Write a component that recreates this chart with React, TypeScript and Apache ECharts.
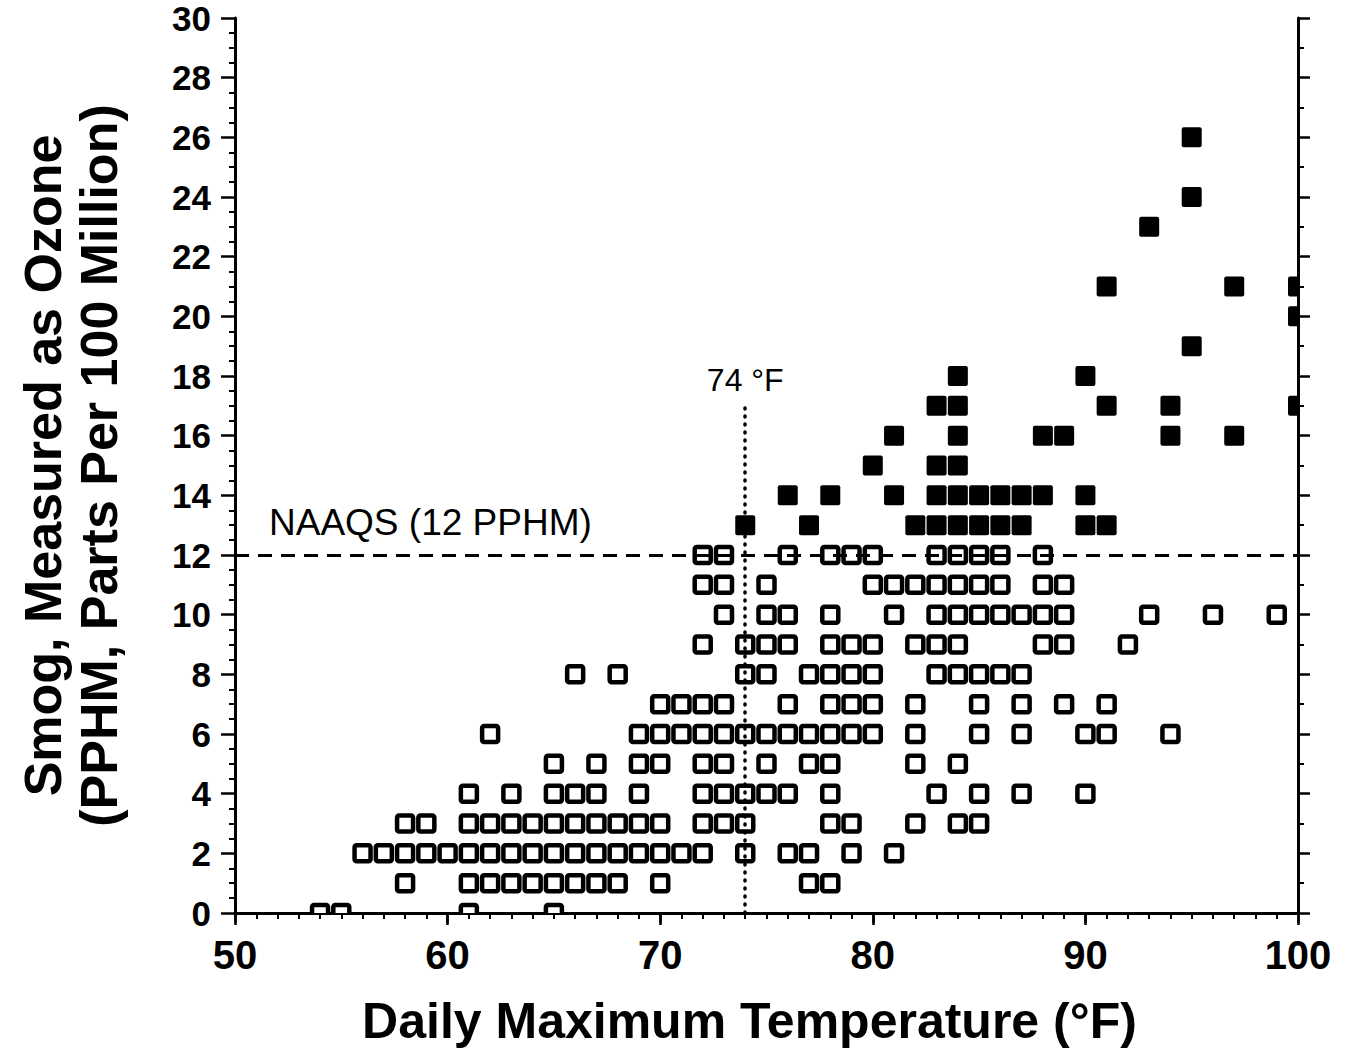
import React, { useEffect, useRef } from "react";
import * as echarts from "echarts";

// ---- axis ticks ----
const xTickLabels = [50, 60, 70, 80, 90, 100];
const yTickLabels = [0, 2, 4, 6, 8, 10, 12, 14, 16, 18, 20, 22, 24, 26, 28, 30];

// ---- open squares: daily max temperature (°F) per ozone level (PPHM) ----
const open0 = [54, 55, 61, 65];
const open1 = [58, 61, 62, 63, 64, 65, 66, 67, 68, 70, 77, 78];
const open2 = [56, 57, 58, 59, 60, 61, 62, 63, 64, 65, 66, 67, 68, 69, 70, 71, 72, 74, 76, 77, 79, 81];
const open3 = [58, 59, 61, 62, 63, 64, 65, 66, 67, 68, 69, 70, 72, 73, 74, 78, 79, 82, 84, 85];
const open4 = [61, 63, 65, 66, 67, 69, 72, 73, 74, 75, 76, 78, 83, 85, 87, 90];
const open5 = [65, 67, 69, 70, 72, 73, 75, 77, 78, 82, 84];
const open6 = [62, 69, 70, 71, 72, 73, 74, 75, 76, 77, 78, 79, 80, 82, 85, 87, 90, 91, 94];
const open7 = [70, 71, 72, 73, 76, 78, 79, 80, 82, 85, 87, 89, 91];
const open8 = [66, 68, 74, 75, 77, 78, 79, 80, 83, 84, 85, 86, 87];
const open9 = [72, 74, 75, 76, 78, 79, 80, 82, 83, 84, 88, 89, 92];
const open10 = [73, 75, 76, 78, 81, 83, 84, 85, 86, 87, 88, 89, 93, 96, 99];
const open11 = [72, 73, 75, 80, 81, 82, 83, 84, 85, 86, 88, 89];
const open12 = [72, 73, 76, 78, 79, 80, 83, 84, 85, 86, 88];
const openLevels = [0, 1, 2, 3, 4, 5, 6, 7, 8, 9, 10, 11, 12];
const openRows = [open0, open1, open2, open3, open4, open5, open6, open7, open8, open9, open10, open11, open12];

// ---- filled squares: days above the standard ----
const filled13 = [74, 77, 82, 83, 84, 85, 86, 87, 90, 91];
const filled14 = [76, 78, 81, 83, 84, 85, 86, 87, 88, 90];
const filled15 = [80, 83, 84];
const filled16 = [81, 84, 88, 89, 94, 97];
const filled17 = [83, 84, 91, 94, 100];
const filled18 = [84, 90];
const filled19 = [95];
const filled20 = [100];
const filled21 = [91, 97, 100];
const filled23 = [93];
const filled24 = [95];
const filled26 = [95];
const filledLevels = [13, 14, 15, 16, 17, 18, 19, 20, 21, 23, 24, 26];
const filledRows = [filled13, filled14, filled15, filled16, filled17, filled18, filled19, filled20, filled21, filled23, filled24, filled26];

// ---- reference lines ----
const naaqsLevel = 12;
const naaqsLabel = "NAAQS (12 PPHM)";
const thresholdTemp = 74;
const thresholdTop = 17;
const thresholdLabel = "74 °F";

function buildPoints(levels: number[], rows: number[][]) {
  const pts: number[][] = [];
  levels.forEach((lv, i) => rows[i].forEach((t) => pts.push([t, lv])));
  return pts;
}

const FONT = "'Liberation Sans', Arial, Helvetica, sans-serif";

export default function App() {
  const ref = useRef<HTMLDivElement>(null);
  useEffect(() => {
    if (!ref.current) return;
    document.body.style.margin = "0";
    const chart = echarts.init(ref.current, undefined, { renderer: "svg" });
    const openPts = buildPoints(openLevels, openRows);
    const filledPts = buildPoints(filledLevels, filledRows);

    const openRender = (params: any, api: any) => {
      const p = api.coord([api.value(0), api.value(1)]);
      return {
        type: "rect",
        shape: { x: p[0] - 8, y: p[1] - 8, width: 16, height: 16, r: 2 },
        style: { fill: "#fff", stroke: "#000", lineWidth: 4.5 },
      };
    };
    const filledRender = (params: any, api: any) => {
      const p = api.coord([api.value(0), api.value(1)]);
      return {
        type: "rect",
        shape: { x: p[0] - 10, y: p[1] - 10, width: 20, height: 20, r: 2 },
        style: { fill: "#000" },
      };
    };

    const axisLine = { show: true, lineStyle: { color: "#000", width: 3 } };

    chart.setOption({
      animation: false,
      backgroundColor: "#fff",
      grid: { left: 235, right: 50, top: 18, bottom: 141, outerBoundsMode: "none", containLabel: false },
      xAxis: [
        {
          type: "value",
          min: xTickLabels[0],
          max: xTickLabels[xTickLabels.length - 1],
          interval: 10,
          position: "bottom",
          axisLine,
          axisTick: { show: true, length: 12, lineStyle: { color: "#000", width: 2.5 } },
          minorTick: { show: true, splitNumber: 10, length: 6, lineStyle: { color: "#000", width: 2 } },
          splitLine: { show: false },
          axisLabel: { fontSize: 40, fontWeight: "bold", color: "#000", fontFamily: FONT, margin: 22 },
          name: "Daily Maximum Temperature (°F)",
          nameLocation: "middle",
          nameGap: 81,
          nameTextStyle: {
            fontSize: 50,
            fontWeight: "bold",
            color: "#000",
            fontFamily: FONT,
            lineHeight: 54,
            padding: [0, 34, 0, 0],
          },
        },
        {
          type: "value",
          min: xTickLabels[0],
          max: xTickLabels[xTickLabels.length - 1],
          interval: 10,
          position: "top",
          axisLine,
          axisTick: { show: true, inside: true, length: 10, lineStyle: { color: "#000", width: 2.5 } },
          minorTick: { show: true, splitNumber: 10, length: 6, lineStyle: { color: "#000", width: 2 } },
          splitLine: { show: false },
          axisLabel: { show: false },
        },
      ],
      yAxis: [
        {
          type: "value",
          min: yTickLabels[0],
          max: yTickLabels[yTickLabels.length - 1],
          interval: 2,
          position: "left",
          axisLine,
          axisTick: { show: true, length: 14, lineStyle: { color: "#000", width: 2.5 } },
          minorTick: { show: true, splitNumber: 4, length: 6, lineStyle: { color: "#000", width: 2 } },
          splitLine: { show: false },
          axisLabel: { fontSize: 35, fontWeight: "bold", color: "#000", fontFamily: FONT, margin: 24, lineHeight: 30 },
          name: "Smog, Measured as Ozone\n(PPHM, Parts Per 100 Million)",
          nameLocation: "middle",
          nameRotate: 90,
          nameGap: 108,
          nameTextStyle: { fontSize: 52, fontWeight: "bold", color: "#000", fontFamily: FONT, lineHeight: 56 },
        },
        {
          type: "value",
          min: yTickLabels[0],
          max: yTickLabels[yTickLabels.length - 1],
          interval: 2,
          position: "right",
          axisLine,
          axisTick: { show: true, length: 12, lineStyle: { color: "#000", width: 2.5 } },
          minorTick: { show: true, splitNumber: 2, length: 6, lineStyle: { color: "#000", width: 2 } },
          splitLine: { show: false },
          axisLabel: { show: false },
        },
      ],
      series: [
        {
          type: "custom",
          name: "open",
          clip: true,
          renderItem: openRender,
          encode: { x: 0, y: 1 },
          data: openPts,
          z: 3,
        },
        {
          type: "custom",
          name: "filled",
          clip: true,
          renderItem: filledRender,
          encode: { x: 0, y: 1 },
          data: filledPts,
          z: 3,
        },
        {
          type: "scatter",
          name: "refs",
          data: [],
          z: 5,
          markLine: {
            silent: true,
            symbol: ["none", "none"],
            animation: false,
            data: [
              [
                {
                  coord: [xTickLabels[0], naaqsLevel],
                  lineStyle: { color: "#000", width: 3, type: [14, 9] },
                  label: {
                    show: true,
                    formatter: naaqsLabel,
                    position: "insideStartTop",
                    distance: [34, 14],
                    fontSize: 37,
                    color: "#000",
                    fontFamily: FONT,
                  },
                },
                { coord: [xTickLabels[xTickLabels.length - 1], naaqsLevel] },
              ],
              [
                {
                  coord: [thresholdTemp, 0],
                  lineStyle: { color: "#000", width: 3.5, type: [1, 7], cap: "round" },
                  label: {
                    show: true,
                    formatter: thresholdLabel,
                    position: "end",
                    distance: 10,
                    fontSize: 32,
                    color: "#000",
                    fontFamily: FONT,
                  },
                },
                { coord: [thresholdTemp, thresholdTop] },
              ],
            ],
          },
        },
      ],
    });
    return () => chart.dispose();
  }, []);
  return <div ref={ref} style={{ width: 1348, height: 1054 }} />;
}
